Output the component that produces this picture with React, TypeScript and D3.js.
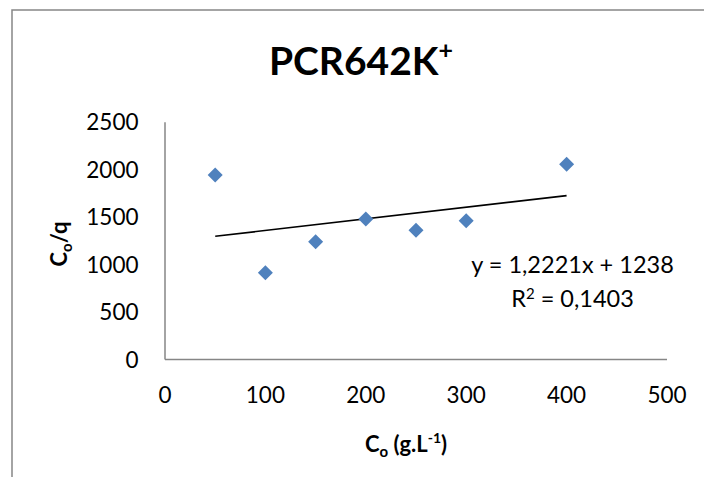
import React from "react";
import * as d3 from "d3";

const xValues = [50, 100, 150, 200, 250, 300, 400];
const yValues = [1944, 913, 1240, 1480, 1361, 1462, 2057];
const xTicks = [0, 100, 200, 300, 400, 500];
const yTicks = [0, 500, 1000, 1500, 2000, 2500];
const trendSlope = 1.2221;
const trendIntercept = 1238;
const equationText = "y = 1,2221x + 1238";
const r2Text = " = 0,1403";

const W = 704;
const H = 477;

export default function App() {
  const x = d3.scaleLinear().domain([0, 500]).range([165, 667]);
  const y = d3.scaleLinear().domain([0, 2500]).range([359.5, 122.3]);
  const font = "Lato, 'Open Sans', sans-serif";
  const axisColor = "#868686";
  const trendX = [d3.min(xValues)!, d3.max(xValues)!];
  const line = d3
    .line<number>()
    .x((d) => x(d))
    .y((d) => y(trendSlope * d + trendIntercept));
  const diamond = (r: number) => `M0,${-r}L${r},0L0,${r}L${-r},0Z`;

  return (
    <div style={{ position: "fixed", left: 0, top: 0 }}>
      <svg width={W} height={H} style={{ display: "block", background: "#fff" }}>
        <rect x={12} y={10} width={900} height={700} fill="#fff" stroke={axisColor} strokeWidth={1.5} />
        {/* title */}
        <text x={361} y={75} textAnchor="middle" fontFamily={font} fontWeight="bold" fontSize={39} fill="#000">
          PCR642K
          <tspan fontSize={25} dy={-16}>+</tspan>
        </text>
        {/* axes */}
        <line x1={x(0)} x2={x(0)} y1={y(2500)} y2={y(0)} stroke={axisColor} strokeWidth={1.5} />
        <line x1={x(0)} x2={x(500)} y1={y(0)} y2={y(0)} stroke={axisColor} strokeWidth={1.5} />
        {yTicks.map((t) => (
          <text key={"y" + t} x={138.5} y={y(t)} dy="0.36em" textAnchor="end" fontFamily={font} fontSize={22.5} fill="#000">
            {t}
          </text>
        ))}
        {xTicks.map((t) => (
          <text key={"x" + t} x={x(t)} y={403} textAnchor="middle" fontFamily={font} fontSize={22.5} fill="#000">
            {t}
          </text>
        ))}
        {/* axis titles */}
        <text x={406} y={452} textAnchor="middle" fontFamily={font} fontWeight="bold" fontSize={22} fill="#000">
          C<tspan fontSize={15} dy={5}>o</tspan>
          <tspan dy={-5}> (g.L</tspan>
          <tspan fontSize={14} dy={-9}>-1</tspan>
          <tspan dy={9}>)</tspan>
        </text>
        <text
          transform={`translate(67,244) rotate(-90)`}
          textAnchor="middle"
          fontFamily={font}
          fontWeight="bold"
          fontSize={22}
          fill="#000"
        >
          C<tspan fontSize={15} dy={5}>o</tspan>
          <tspan dy={-5}>/q</tspan>
        </text>
        {/* trendline */}
        <path d={line(trendX) || ""} fill="none" stroke="#000" strokeWidth={1.7} />
        {/* points */}
        {xValues.map((v, i) => (
          <path key={i} d={diamond(7.5)} transform={`translate(${x(v)},${y(yValues[i])})`} fill="#4F81BD" />
        ))}
        {/* equation */}
        <text x={572.5} y={273} textAnchor="middle" fontFamily={font} fontSize={23.5} fill="#000">
          {equationText}
        </text>
        <text x={572.5} y={306.5} textAnchor="middle" fontFamily={font} fontSize={23.5} fill="#000">
          R<tspan fontSize={15} dy={-8}>2</tspan>
          <tspan dy={8}>{r2Text}</tspan>
        </text>
      </svg>
    </div>
  );
}
